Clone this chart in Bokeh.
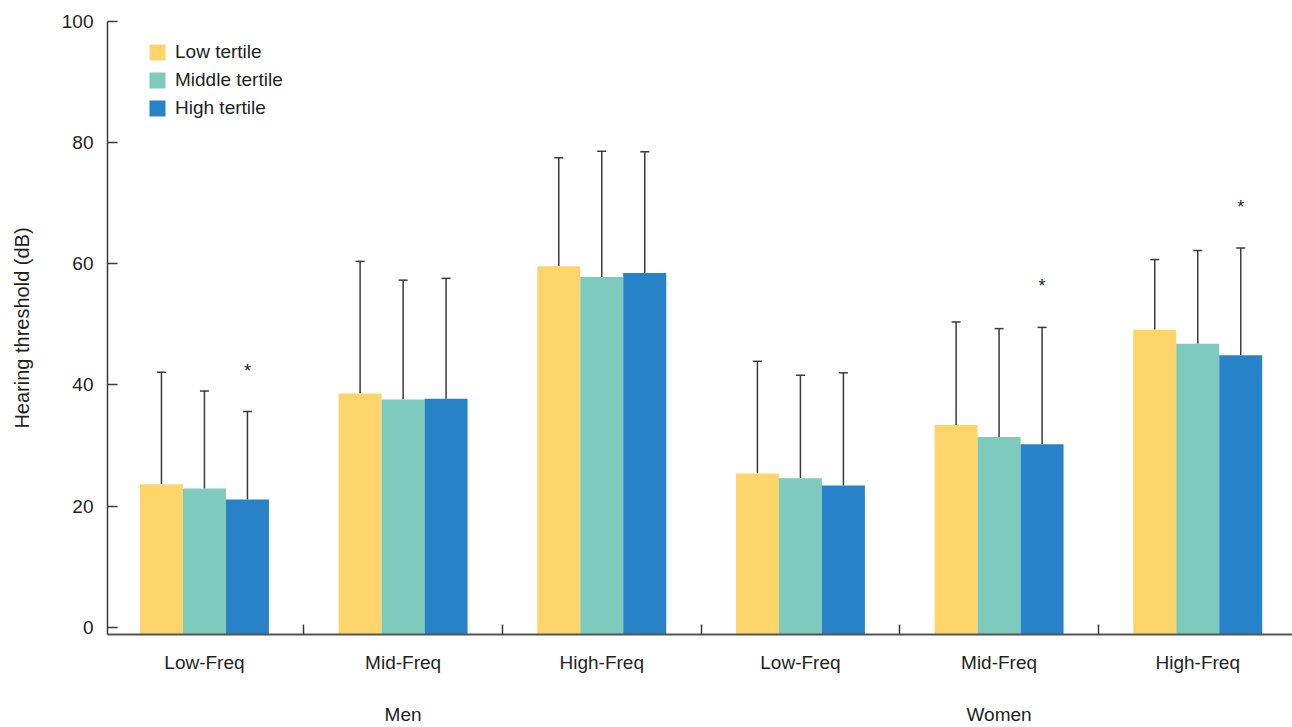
from bokeh.plotting import figure
from bokeh.models import (Range1d, FixedTicker, ColumnDataSource, LinearAxis,
                          Whisker, TeeHead)
from bokeh.core.properties import value
from bokeh.embed import file_html
from bokeh.resources import INLINE

# ---- data ----
categories = ["Low-Freq", "Mid-Freq", "High-Freq", "Low-Freq", "Mid-Freq", "High-Freq"]
sex_groups = ["Men", "Women"]
series = ["Low tertile", "Middle tertile", "High tertile"]

low_mean = [23.6, 38.6, 59.6, 25.4, 33.4, 49.1]
mid_mean = [22.9, 37.6, 57.8, 24.6, 31.4, 46.8]
high_mean = [21.1, 37.7, 58.5, 23.4, 30.2, 44.9]

low_sd = [18.5, 21.8, 17.9, 18.5, 17.0, 11.6]
mid_sd = [16.1, 19.7, 20.8, 17.0, 17.9, 15.4]
high_sd = [14.5, 19.9, 20.0, 18.6, 19.3, 17.7]

high_sig = [True, False, False, False, True, True]

colors = ["#FDD56A", "#7ECBBE", "#2782C7"]
FONT = "Liberation Sans"
TXT = "#231f20"
AX = "#3a3a3a"
FS = "19px"

n = len(categories)
bar_w = 0.2164
offsets = [-bar_w, 0.0, bar_w]
y0 = -1.2

p = figure(width=1292, height=727, output_backend="svg", toolbar_location=None,
           x_range=Range1d(0.012, 5.977), y_range=Range1d(y0, 100),
           min_border_left=107, min_border_right=0, min_border_top=21,
           min_border_bottom=93)
p.outline_line_color = None
p.xgrid.grid_line_color = None
p.ygrid.grid_line_color = None
p.background_fill_color = "white"

means = [low_mean, mid_mean, high_mean]
sds = [low_sd, mid_sd, high_sd]
for k in range(3):
    xs = [i + 0.5 + offsets[k] for i in range(n)]
    src = ColumnDataSource(dict(
        x=xs, top=means[k],
        upper=[m + s for m, s in zip(means[k], sds[k])],
    ))
    p.vbar(x="x", top="top", bottom=y0, width=bar_w, source=src,
           fill_color=colors[k], line_color=None, legend_label=series[k])
    wk = Whisker(source=src, base="x", lower="top", upper="upper",
                 line_color=AX, line_width=1.5,
                 upper_head=TeeHead(size=9, line_color=AX, line_width=1.5),
                 lower_head=None)
    p.add_layout(wk)
    if k == 2:
        sx = [x for x, s in zip(xs, high_sig) if s]
        sy = [m + s for m, s, g in zip(means[k], sds[k], high_sig) if g]
        p.text(x=sx, y=sy, text=["*"] * len(sx), text_align="center",
               text_baseline="middle", y_offset=-41,
               text_font=value(FONT), text_font_size="18px", text_color=TXT)

# ---- y axis ----
yax = p.yaxis[0]
yax.ticker = FixedTicker(ticks=[0, 20, 40, 60, 80, 100])
yax.major_tick_in = 10
yax.major_tick_out = 0
yax.minor_tick_line_color = None
yax.major_tick_line_color = AX
yax.major_tick_line_width = 1.5
yax.axis_line_color = AX
yax.axis_line_width = 1.5
yax.major_label_standoff = 14
yax.major_label_text_font = FONT
yax.major_label_text_font_size = FS
yax.major_label_text_color = TXT
yax.axis_label = "Hearing threshold (dB)"
yax.axis_label_text_font = FONT
yax.axis_label_text_font_size = "20px"
yax.axis_label_text_font_style = "normal"
yax.axis_label_text_color = TXT
yax.axis_label_standoff = 26

# ---- x axis: category labels, separator ticks ----
centers = [i + 0.5 for i in range(n)]
xax = p.xaxis[0]
xax.ticker = FixedTicker(ticks=centers, minor_ticks=list(range(1, n)))
xax.major_label_overrides = {c: lab for c, lab in zip(centers, categories)}
xax.major_tick_line_color = None
xax.minor_tick_in = 10
xax.minor_tick_out = 0
xax.minor_tick_line_color = AX
xax.minor_tick_line_width = 1.5
xax.axis_line_color = "#555555"
xax.axis_line_width = 2
xax.major_label_standoff = 11
xax.major_label_text_font = FONT
xax.major_label_text_font_size = FS
xax.major_label_text_color = TXT

# ---- group labels (Men / Women) as a second axis below ----
gpos = [1.5, 4.5]
gax = LinearAxis(ticker=FixedTicker(ticks=gpos, minor_ticks=[]),
                 major_label_overrides={g: s for g, s in zip(gpos, sex_groups)},
                 axis_line_color=None, major_tick_line_color=None,
                 minor_tick_line_color=None, major_tick_in=0, major_tick_out=0,
                 major_label_standoff=28,
                 major_label_text_font=FONT, major_label_text_font_size=FS,
                 major_label_text_color=TXT)
p.add_layout(gax, "below")

# ---- legend ----
lg = p.legend[0]
lg.location = (40, 515)
lg.glyph_width = 20
lg.glyph_height = 20
lg.label_height = 20
lg.spacing = 6
lg.padding = 0
lg.margin = 0
lg.label_standoff = 8
lg.border_line_color = None
lg.background_fill_alpha = 0
lg.label_text_font = FONT
lg.label_text_font_size = FS
lg.label_text_color = TXT

open("out.html", "w").write(file_html(p, INLINE))
